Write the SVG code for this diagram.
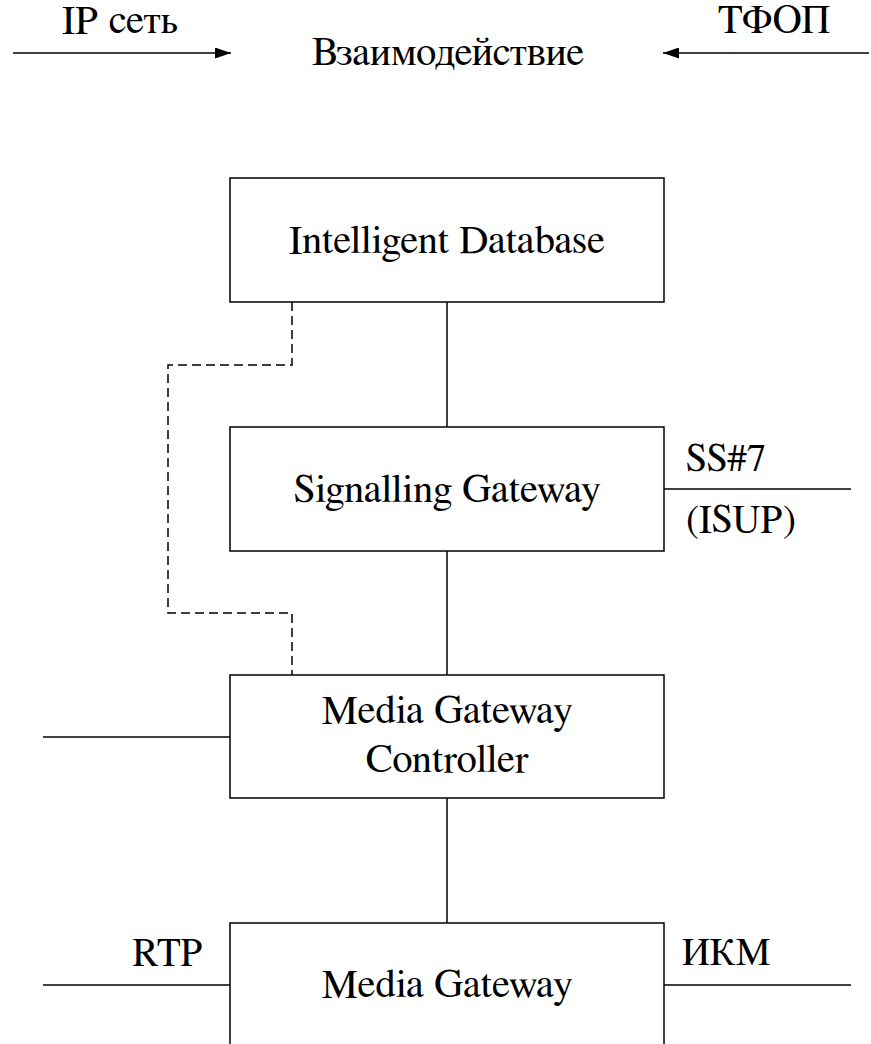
<svg xmlns="http://www.w3.org/2000/svg" width="871" height="1044" viewBox="0 0 871 1044">
<style>
  text { font-family: FreeSerif, 'DejaVu Serif', serif; font-size: 40.5px; fill: #000; }
  .c { text-anchor: middle; }
  .s { font-size: 39px; }
  .box { fill: #fff; stroke: #000; stroke-width: 1.5; }
  .ln { fill: none; stroke: #000; stroke-width: 1.5; }
  .dash { fill: none; stroke: #000; stroke-width: 1.5; stroke-dasharray: 9 5; }
</style>
<defs>
  <marker id="arr" viewBox="0 0 16 11" refX="16" refY="5.5" markerWidth="16" markerHeight="11" markerUnits="userSpaceOnUse" orient="auto">
    <path d="M0,0 L16,5.5 L0,11 Z" fill="#000"/>
  </marker>
</defs>
<rect width="871" height="1044" fill="#fff"/>
<g id="connectors">
  <line class="ln" x1="13" y1="53" x2="231" y2="53" marker-end="url(#arr)"/>
  <line class="ln" x1="869" y1="53" x2="663" y2="53" marker-end="url(#arr)"/>
  <line class="ln" x1="447" y1="302" x2="447" y2="427"/>
  <line class="ln" x1="447" y1="551" x2="447" y2="675"/>
  <line class="ln" x1="447" y1="798" x2="447" y2="923"/>
  <polyline class="dash" points="292,302 292,365 168,365 168,613 292,613 292,675"/>
  <line class="ln" x1="664" y1="489" x2="851" y2="489"/>
  <line class="ln" x1="43" y1="737" x2="230" y2="737"/>
  <line class="ln" x1="43" y1="985" x2="230" y2="985"/>
  <line class="ln" x1="664" y1="985" x2="851" y2="985"/>
</g>
<g id="labels">
  <text x="120" y="33" class="c">IP сеть</text>
  <text x="448" y="65" class="c">Взаимодействие</text>
  <text x="774" y="33" class="c">ТФОП</text>
  <text x="686" y="471" class="s">SS#7</text>
  <text x="686" y="532" class="s">(ISUP)</text>
  <text x="203" y="965" class="s" text-anchor="end">RTP</text>
  <text x="682" y="965" class="s">ИКМ</text>
</g>
<g id="intelligent-database">
  <rect class="box" x="230" y="178" width="434" height="124"/>
  <text x="447" y="253" class="c">Intelligent Database</text>
</g>
<g id="signalling-gateway">
  <rect class="box" x="230" y="427" width="434" height="124"/>
  <text x="447" y="502" class="c">Signalling Gateway</text>
</g>
<g id="media-gateway-controller">
  <rect class="box" x="230" y="675" width="434" height="123"/>
  <text x="447" y="723" class="c">Media Gateway</text>
  <text x="447" y="772" class="c">Controller</text>
</g>
<g id="media-gateway">
  <rect class="box" x="230" y="923" width="434" height="140"/>
  <text x="447" y="997" class="c">Media Gateway</text>
</g>
</svg>
